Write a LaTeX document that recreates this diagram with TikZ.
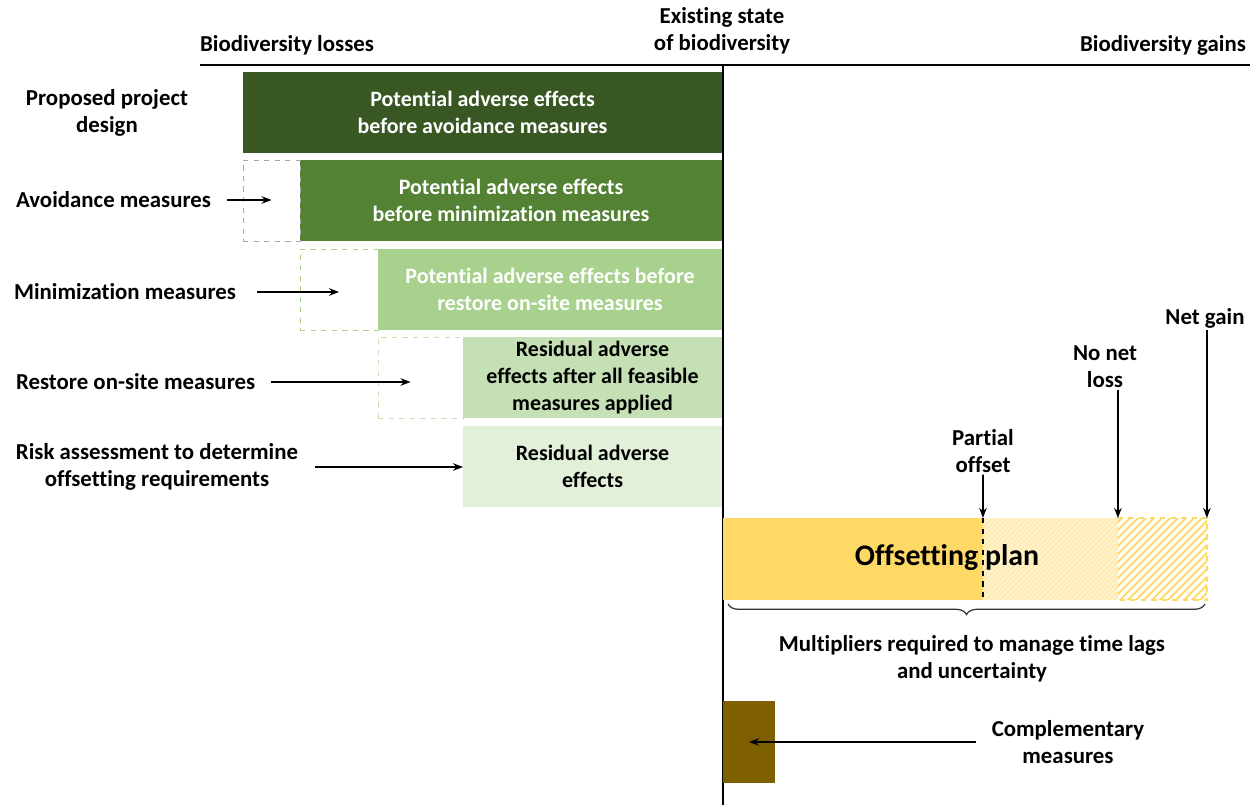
\documentclass[tikz,border=0pt]{standalone}
\usepackage{fontspec}
\setmainfont{Carlito}[RawFeature={-liga;-clig;-calt}]
\usetikzlibrary{arrows.meta, positioning, decorations.pathreplacing, patterns.meta}
\definecolor{greenA}{HTML}{385723}
\definecolor{greenB}{HTML}{548235}
\definecolor{greenC}{HTML}{A9D18E}
\definecolor{greenD}{HTML}{C5E0B4}
\definecolor{greenE}{HTML}{E2F0D9}
\definecolor{offYel}{HTML}{FFD966}
\definecolor{offPale}{HTML}{FFF2CC}
\definecolor{offHatch}{HTML}{FFE699}
\definecolor{compBrown}{HTML}{7F6000}
\definecolor{ghostGray}{HTML}{A6A6A6}
\tikzset{
  arrowK/.style={-{Stealth[length=2mm]}, black, line width=1.1pt},
  effbox/.style={rectangle, anchor=north east, align=center, outer sep=0pt,
                 font=\bfseries\fontsize{12.5}{15.3}\selectfont, inner sep=2pt,
                 minimum height=1.62cm},
  ghost/.style={rectangle, draw=ghostGray, dashed, outer sep=0pt,
                minimum height=1.62cm, inner sep=0pt},
  lab/.style={align=center, font=\bfseries\fontsize{13}{15.3}\selectfont, inner sep=1pt},
  seg/.style={rectangle, anchor=north west, outer sep=0pt, inner sep=0pt,
              minimum height=1.64cm},
}
\begin{document}
\begin{tikzpicture}[x=0.02cm, y=-0.02cm]
  \useasboundingbox (0,0) rectangle (1259,805);
  % axes
  \coordinate (axL) at (200,65); \coordinate (axR) at (1250,65);
  \coordinate (axT) at (723,65); \coordinate (axB) at (723,805);
  \draw[line width=1.2pt] (axL) -- (axR);
  \draw[line width=1.2pt] (axT) -- (axB);
  \node[lab] (loss) at (287,45) {Biodiversity losses};
  \node[lab] (state) at (722,31) {Existing state\\of biodiversity};
  \node[lab, anchor=east] (gain) at (1248,45) {Biodiversity gains};

  % mitigation steps
  \node[effbox, fill=greenA, text=white, minimum width=9.58cm] (e1) at (722,72)
       {Potential adverse effects\\before avoidance measures};
  \node[effbox, fill=greenB, text=white, minimum width=8.44cm] (e2) at (722,160)
       {Potential adverse effects\\before minimization measures};
  \node[effbox, fill=greenC, text=white, minimum width=6.88cm] (e3) at (722,249)
       {Potential adverse effects before\\restore on-site measures};
  \node[effbox, fill=greenD, minimum width=5.18cm] (e4) at (722,337)
       {Residual adverse\\effects after all feasible\\measures applied};
  \node[effbox, fill=greenE, minimum width=5.18cm] (e5) at (722,426)
       {Residual adverse\\effects};
  \node[ghost, minimum width=1.14cm, left=0pt of e2] (g2) {};
  \node[ghost, minimum width=1.56cm, left=0pt of e3, draw=greenC] (g3) {};
  \node[ghost, minimum width=1.7cm, left=0pt of e4, draw=greenD] (g4) {};

  \node[lab] (design) at (107,113) {Proposed project\\design};
  \node[lab, anchor=west] (avoid) at (14,200) {Avoidance measures};
  \node[lab, anchor=west] (minim) at (12,292) {Minimization measures};
  \node[lab, anchor=west] (restore) at (14,382) {Restore on-site measures};
  \node[lab] (risk) at (157,467) {Risk assessment to determine\\offsetting requirements};
  \draw[arrowK] ([xshift=8pt]avoid.east) -- (avoid.east -| g2.center);
  \draw[arrowK] ([xshift=11pt]minim.east) -- (minim.east -| g3.center);
  \draw[arrowK, shorten >=0.2cm] ([xshift=8pt]restore.east) -- (restore.east -| g4.center);
  \draw[arrowK] ([xshift=0.3cm]risk.east) -- (risk.east -| e5.west);

  % offsetting
  \node[seg, fill=offYel, minimum width=5.2cm] (s1) at (723,518) {};
  \node[seg, preaction={fill=offPale}, pattern={Lines[angle=45,distance=2pt,line width=0.4pt]},
        pattern color=offHatch, minimum width=2.7cm, right=0pt of s1] (s2) {};
  \node[seg, minimum width=1.78cm, right=0pt of s2] (s3) {};
  \begin{scope}
    \clip (s3.north west) rectangle (s3.south east);
    \foreach \k in {0,...,22}
      \draw[offYel, line width=1.1pt] (1030+8*\k,610) -- ++(100,-100);
  \end{scope}
  \draw[offYel, dashed, line width=0.8pt] (s3.north west) -- (s3.north east)
       -- (s3.south east) -- (s3.south west);
  \draw[dashed, line width=0.9pt] (s1.north east) -- (s1.south east);
  \node[font=\bfseries\fontsize{17}{20}\selectfont] (plan) at (947,558) {Offsetting plan};

  \node[lab] (part) at (983,451) {Partial\\offset};
  \node[lab] (nnl) at (1105,367) {No net\\loss};
  \node[lab] (ng) at (1205,318) {Net gain};
  \draw[arrowK] (part.south) -- (s1.north east);
  \draw[arrowK] (nnl.south -| s3.north west) -- (s3.north west);
  \draw[arrowK] (ng.south -| s3.north east) -- (s3.north east);

  \coordinate (brL) at (728,604); \coordinate (brR) at (1205,604);
  \draw[decorate, decoration={brace, mirror, amplitude=6pt}, line width=0.7pt, black!80] (brL) -- (brR);
  \node[lab] (mult) at (972,659) {Multipliers required to manage time lags\\and uncertainty};

  % complementary
  \node[seg, fill=compBrown, minimum width=1.04cm] (comp) at (723,701) {};
  \node[lab] (comptxt) at (1068,742) {Complementary\\measures};
  \draw[arrowK] ([xshift=-8pt]comptxt.west) -- (comptxt.west -| comp.center);
\end{tikzpicture}
\end{document}
